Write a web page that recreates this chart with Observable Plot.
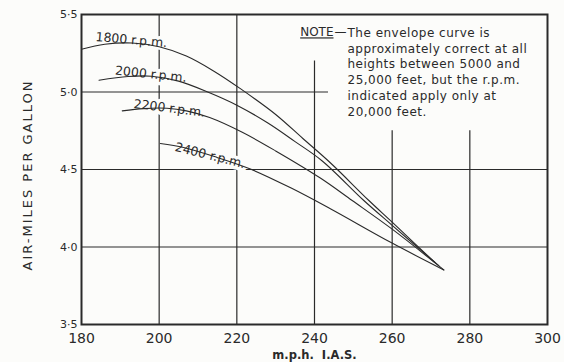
<!DOCTYPE html>
<html>
<head>
<meta charset="utf-8">
<script src="https://cdn.jsdelivr.net/npm/d3@7"></script>
<script src="https://cdn.jsdelivr.net/npm/@observablehq/plot@0.6"></script>
<style>
  html, body { margin: 0; padding: 0; background: #fcfcfa; }
</style>
</head>
<body>
<div id="chart"></div>
<script>
// ---- data ----
const rpmSeries = ["1800", "2000", "2200", "2400"];

const mph1800 = [180, 186, 193, 200, 207, 214, 221, 230, 237, 244, 254, 260, 271];
const amg1800 = [5.276, 5.308, 5.316, 5.292, 5.232, 5.136, 5.02, 4.855, 4.70, 4.545, 4.30, 4.16, 3.90];

const mph2000 = [184.5, 192, 198, 205, 212.5, 220, 228, 235, 242, 252.7, 260, 272];
const amg2000 = [5.076, 5.100, 5.102, 5.07, 5.00, 4.915, 4.80, 4.68, 4.555, 4.30, 4.14, 3.88];

const mph2200 = [190.5, 196, 202, 207, 213, 221.4, 230, 241.5, 249.7, 260, 273.3];
const amg2200 = [4.878, 4.893, 4.895, 4.878, 4.835, 4.74, 4.62, 4.445, 4.30, 4.115, 3.852];

const mph2400 = [200.3, 206.3, 214.9, 223.5, 234, 244.2, 259.6, 273.3];
const amg2400 = [4.668, 4.642, 4.578, 4.503, 4.38, 4.245, 4.03, 3.852];

const xTicks = [180, 200, 220, 240, 260, 280, 300];
const yTicks = [3.5, 4.0, 4.5, 5.0, 5.5];

// grid lines (some are cut short by the note)
const xGrid = [200, 220, 240, 260, 280];
const xGridTop = [5.5, 5.5, 5.2, 4.75, 4.75];
const yGrid = [4.0, 4.5, 5.0];
const yGridEnd = [300, 300, 243.6];

// curve labels: which point of each series carries the label
const labelText = ["1800 r.p.m.", "2000 r.p.m.", "2200 r.p.m.", "2400 r.p.m."];
const labelIndex = [2, 2, 2, 2];

const noteLines = [
  "The envelope curve is",
  "approximately correct at all",
  "heights between 5000 and",
  "25,000 feet, but the r.p.m.",
  "indicated apply only at",
  "20,000 feet."
];

// ---- build tables ----
const mphs = [mph1800, mph2000, mph2200, mph2400];
const amgs = [amg1800, amg2000, amg2200, amg2400];
const rows = rpmSeries.flatMap((rpm, i) => mphs[i].map((m, j) => ({rpm, mph: m, amg: amgs[i][j]})));
const vGrid = xGrid.map((x, i) => ({x, top: xGridTop[i]}));
const hGrid = yGrid.map((y, i) => ({y, end: yGridEnd[i]}));
const labelRot = [5, 6, 7, 14];
const labelDx = [-1, -1, 2, -8];
const labelDy = [1, 2, 4, 2];

const ink = "#2a2a2a";
const paper = "#fcfcfa";
const fmt = d => d.toFixed(1).replace(".", "·");

const labelMarks = rpmSeries.map((rpm, i) => Plot.text([{
    mph: mphs[i][labelIndex[i]], amg: amgs[i][labelIndex[i]], t: labelText[i]}], {
  x: "mph", y: "amg", text: "t", rotate: labelRot[i], dx: labelDx[i], dy: labelDy[i],
  lineAnchor: "bottom", textAnchor: "middle", fontSize: 12.5, fill: ink,
  stroke: paper, strokeWidth: 7, paintOrder: "stroke"
}));

const plot = Plot.plot({
  width: 564,
  height: 362,
  marginLeft: 81,
  marginRight: 17,
  marginTop: 14,
  marginBottom: 38,
  style: {fontFamily: "DejaVu Sans", background: paper, color: ink},
  x: {domain: [180, 300]},
  y: {domain: [3.5, 5.5]},
  marks: [
    Plot.ruleX(vGrid, {x: "x", y1: 3.5, y2: "top", stroke: ink, strokeWidth: 1.2}),
    Plot.ruleY(hGrid, {y: "y", x1: 180, x2: "end", stroke: ink, strokeWidth: 1.2}),
    ...labelMarks,
    Plot.line(rows, {x: "mph", y: "amg", z: "rpm", curve: "catmull-rom", stroke: ink, strokeWidth: 1.1}),
    Plot.frame({stroke: ink, strokeWidth: 2}),
    Plot.axisX({ticks: xTicks, tickSize: 0, tickPadding: 9, fontSize: 14, label: null, tickFormat: d => String(d)}),
    Plot.axisY({ticks: yTicks, tickSize: 0, tickPadding: 4, fontSize: 11, label: null, tickFormat: fmt}),
    Plot.text(["m.p.h.  I.A.S."], {frameAnchor: "bottom", lineAnchor: "middle", dy: 31, fontSize: 11.5, fontWeight: "bold", fill: ink}),
    Plot.text(["NOTE"], {frameAnchor: "top-left", textAnchor: "end", lineAnchor: "middle", dx: 252, dy: 18, fontSize: 12, fill: ink}),
    Plot.text(["—"], {frameAnchor: "top-left", textAnchor: "start", lineAnchor: "middle", dx: 253, dy: 18, fontSize: 12, fill: ink}),
    Plot.text([noteLines.join("\n")], {frameAnchor: "top-left", textAnchor: "start", lineAnchor: "top", dx: 266, dy: 11, fontSize: 12, lineHeight: 1.32, fill: ink})
  ]
});

const svg = d3.select(plot);
svg.selectAll("text").filter(function() { return this.textContent === "NOTE"; })
  .attr("text-decoration", "underline");
svg.selectAll("text").filter(function() { return this.textContent.startsWith("The envelope"); })
  .attr("letter-spacing", "0.5px");
svg.append("text")
  .attr("transform", "translate(28,175) rotate(-90)")
  .attr("text-anchor", "middle")
  .attr("dominant-baseline", "middle")
  .attr("font-family", "DejaVu Sans")
  .attr("font-size", 13)
  .attr("letter-spacing", "2px")
  .attr("fill", ink)
  .text("AIR-MILES PER GALLON");

document.getElementById("chart").appendChild(plot);
</script>
</body>
</html>
